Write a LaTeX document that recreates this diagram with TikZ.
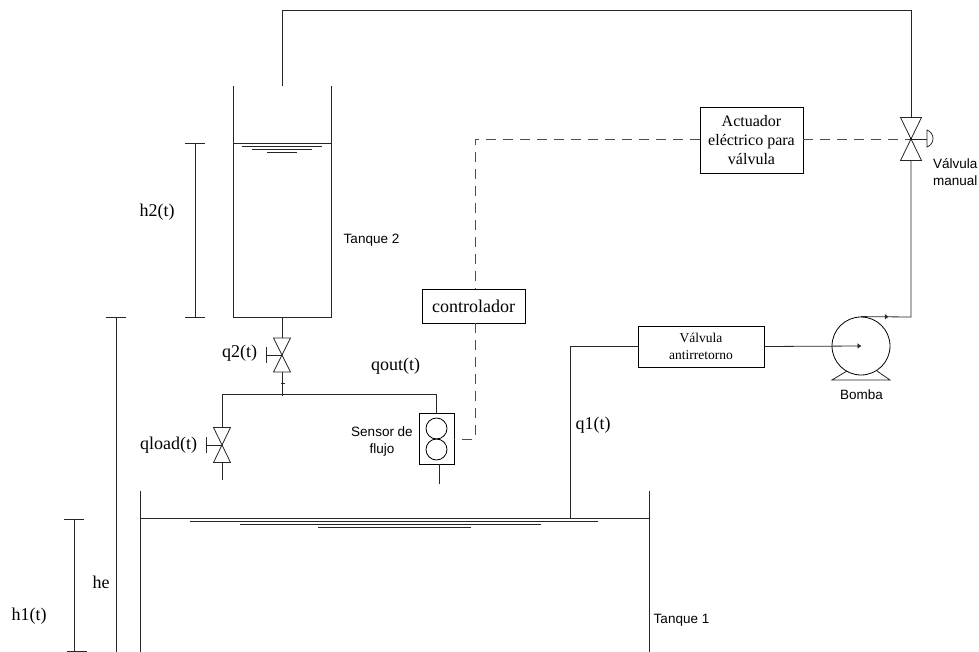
\documentclass[tikz,border=0pt]{standalone}
\usepackage{fontspec}
\setmainfont{Liberation Serif}
\setsansfont{Liberation Sans}
\usetikzlibrary{arrows.meta,decorations.markings}
\tikzset{
  pipe/.style={draw=black!85,line width=0.8pt,line join=miter},
  signal/.style={draw=black!70,line width=0.9pt,dash pattern=on 10pt off 7pt},
  unit/.style={draw=black,line width=0.8pt,fill=white,inner sep=0pt,align=center},
  serifl/.style={inner sep=0pt,font=\fontsize{18}{20}\selectfont},
  sansl/.style={inner sep=0pt,align=center,font=\sffamily\fontsize{13.5}{17}\selectfont},
  flowmark/.style={postaction={decorate,decoration={markings,mark=at position #1 with {\arrow{Triangle[length=3.5pt,width=5pt]}}}}},
}
\newcommand{\gatevalve}[4]{% x,y centre, half width, half height
  \draw[pipe,fill=white] (#1-#3,#2-#4) -- (#1+#3,#2-#4) -- (#1-#3,#2+#4) -- (#1+#3,#2+#4) -- cycle;
}
\begin{document}
\begin{tikzpicture}[x=1pt,y=-1pt]
\useasboundingbox (0,0) rectangle (979,652);
% named points
\coordinate (t2in) at (282,86);
\coordinate (t2out) at (282,317);
\coordinate (tee) at (282,394);
\coordinate (mv) at (911,139);
\coordinate (q2v) at (282,355);
\coordinate (qlv) at (222,445);
\coordinate (t1l) at (140,518.5); \coordinate (t1r) at (649,518.5);
\coordinate (q1b) at (570,518.5);
% boxes
\node[unit,minimum width=103pt,minimum height=66pt,font=\fontsize{16}{19.3}\selectfont] (act) at (751.5,140) {Actuador\\eléctrico para\\válvula};
\node[unit,minimum width=103pt,minimum height=34pt,font=\fontsize{18}{20}\selectfont] (ctrl) at (473.5,306) {controlador};
\node[unit,minimum width=126pt,minimum height=41pt,font=\fontsize{13.5}{17}\selectfont] (chk) at (701,346.5) {Válvula\\antirretorno};
\node[unit,minimum width=35pt,minimum height=51pt] (sens) at (436.5,438.5) {};
\node[circle,draw=black,line width=0.8pt,minimum size=58pt,inner sep=0pt,fill=white] (pump) at (861,346) {};
% tank 2
\draw[pipe] (233,86) -- (233,317) -- (331,317) -- (331,86);
\draw[pipe] (233,143.5) -- (331,143.5);
\draw[pipe] (242,146.7) -- (322,146.7) (252,149.7) -- (312,149.7) (267,152.3) -- (297,152.3);
% tank 1
\draw[pipe] (140,491) -- (140,652) (649,491) -- (649,652);
\draw[pipe] (t1l) -- (t1r);
\draw[pipe] (190,521) -- (598,521) (240,524) -- (541,524) (318,527) -- (471,527);
% piping
\draw[pipe] (t2in) -- (282,10) -- (911,10) -- (mv);
\draw[pipe] (t2out) -- (tee);
\draw[pipe] (222,480) -- (222,394) -- (436,394) -- (436,413);
\draw[pipe] (439,464) -- (439,484);
\draw[pipe] (q1b) -- (570,346.5) -- (chk.west);
\draw[pipe] (285,383) -- (281,383) (282,396) -- (282,392);
\draw[pipe,flowmark=1] (chk.east) -- (pump.center);
\draw[pipe,flowmark=0.12] (pump.north) -- (911,317) -- (mv);
% pump base
\draw[pipe] (847,371) -- (832,380) -- (890,380) -- (877,371);
% signals
\draw[signal] (act.east |- mv) -- (mv);
\draw[signal] (act.west |- mv) -- (475,139) -- (475,289);
\draw[signal] (475,323) -- (475,439) -- (454,439);
% sensor circles
\node[circle,draw=black,line width=0.8pt,minimum size=21pt,inner sep=0pt] (s1) at (436.5,428.5) {};
\node[circle,draw=black,line width=0.8pt,minimum size=21pt,inner sep=0pt] (s2) at (436.5,449.5) {};
% valves
\gatevalve{911}{139}{10.5}{21.5}
\fill (mv) circle (1.2pt);
\draw[pipe] (mv) -- (927,139);
\draw[pipe] (927,130) .. controls (935,133) and (935,144) .. (927,147) -- cycle;
\gatevalve{282}{355}{8.5}{17}
\draw[pipe] (q2v) -- (266,355) (266,347) -- (266,363);
\gatevalve{222}{445}{8.5}{17.5}
\draw[pipe] (qlv) -- (206,445) (206,437) -- (206,453);
% dimensions
\draw[pipe] (185,143) -- (205,143) (185,317) -- (205,317) (195,143) -- (195,317);
\draw[pipe] (106,317) -- (126,317) (116,317) -- (116,652);
\draw[pipe] (64,519) -- (84,519) (74,519) -- (74,651) (67,651.3) -- (87,651.3);
% labels
\node[serifl] (lh2) at (157,212) {h2(t)};
\node[serifl] (lh1) at (29,616) {h1(t)};
\node[serifl] (lhe) at (101,582) {he};
\node[serifl] (lq1) at (593,425) {q1(t)};
\node[serifl] (lq2) at (239.5,353) {q2(t)};
\node[serifl] (lqo) at (395.5,366) {qout(t)};
\node[serifl] (lql) at (168.5,445) {qload(t)};
\node[sansl] (lsens) at (382,442) {Sensor de\\flujo};
\node[sansl] (lt2) at (371.5,240) {Tanque 2};
\node[sansl] (lt1) at (681.5,620) {Tanque 1};
\node[sansl] (lb) at (861.5,395) {Bomba};
\node[sansl,align=left,anchor=west] (lv) at (933,172.5) {Válvula\\manual};
\end{tikzpicture}
\end{document}
